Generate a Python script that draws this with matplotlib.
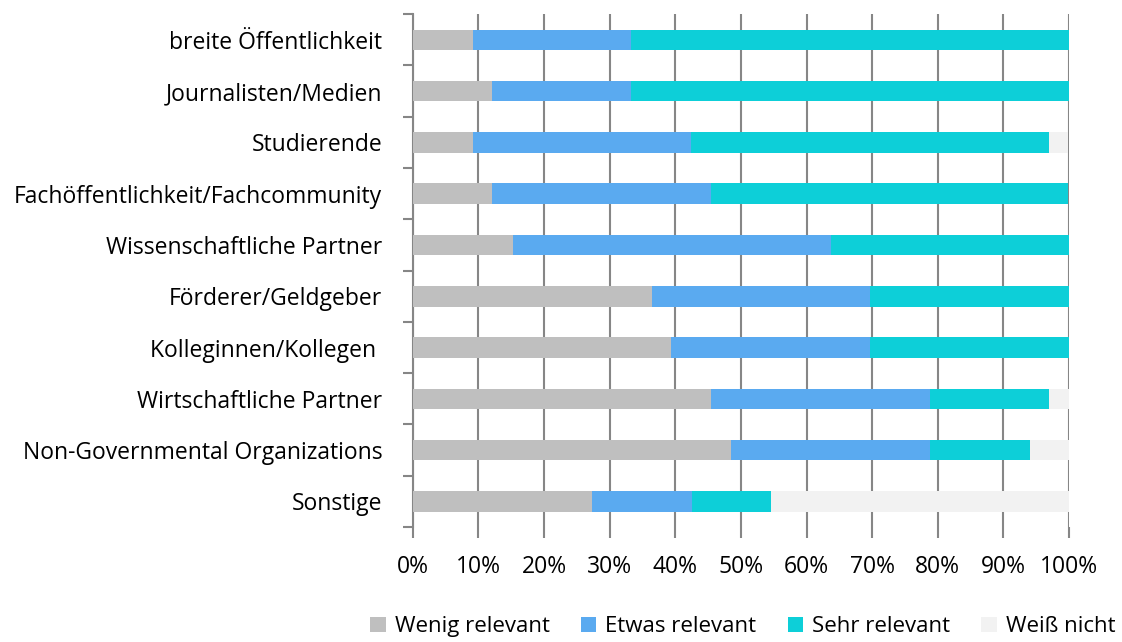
import numpy as np
import matplotlib
matplotlib.use("Agg")
import matplotlib.pyplot as plt

plt.rcParams['font.family'] = ['Open Sans', 'DejaVu Sans']

# Daten (Anteile in %, n=33)
kategorien = ['breite Öffentlichkeit', 'Journalisten/Medien', 'Studierende',
              'Fachöffentlichkeit/Fachcommunity', 'Wissenschaftliche Partner',
              'Förderer/Geldgeber', 'Kolleginnen/Kollegen ', 'Wirtschaftliche Partner',
              'Non-Governmental Organizations', 'Sonstige']
wenig = [9.1, 12.1, 9.1, 12.1, 15.2, 36.4, 39.4, 45.5, 48.5, 27.3]
etwas = [24.2, 21.2, 33.3, 33.3, 48.5, 33.3, 30.3, 33.3, 30.3, 15.2]
sehr = [66.7, 66.7, 54.5, 54.5, 36.4, 30.3, 30.3, 18.2, 15.2, 12.1]
weiss = [0.0, 0.0, 3.0, 0.0, 0.0, 0.0, 0.0, 3.0, 6.1, 45.5]
serien = ['Wenig relevant', 'Etwas relevant', 'Sehr relevant', 'Weiß nicht']
farben = ['#BFBFBF', '#5AAAF0', '#0DCFD8', '#F2F2F2']

fig = plt.figure(figsize=(11.22, 6.42), dpi=100)
ax = fig.add_axes([0.368, 0.179, 0.5847, 0.799])

y = np.arange(len(kategorien))
links = np.zeros(len(kategorien))
for werte, name, farbe in zip([wenig, etwas, sehr, weiss], serien, farben):
    ax.barh(y, werte, left=links, height=0.4, color=farbe, label=name, zorder=3)
    links += np.array(werte)

ax.set_xlim(0, 100)
ax.set_ylim(len(kategorien) - 0.5, -0.5)
ax.set_xticks(np.arange(0, 101, 10))
ax.set_xticklabels([f'{v}%' for v in range(0, 101, 10)], fontsize=16.5)
ax.set_yticks(y)
ax.set_yticklabels(kategorien, fontsize=16.5)
ax.set_yticks(np.arange(-0.5, len(kategorien)), minor=True)
ax.tick_params(axis='y', which='major', length=0, pad=22)
ax.tick_params(axis='y', which='minor', length=7, color='#868686', width=1.5)
ax.tick_params(axis='x', length=8, color='#868686', width=1.5, pad=12)
ax.grid(axis='x', color='#868686', linewidth=1.5, zorder=0)
for s in ['top', 'right', 'bottom']:
    ax.spines[s].set_visible(False)
ax.spines['left'].set_color('#868686')
ax.spines['left'].set_linewidth(1.5)

fig.legend(loc='center', bbox_to_anchor=(0.662, 0.024), ncol=4, frameon=False,
           fontsize=16, handlelength=0.7, handleheight=0.7, columnspacing=1.4,
           handletextpad=0.4, borderpad=0.1)

fig.savefig('out.png', dpi=100)
